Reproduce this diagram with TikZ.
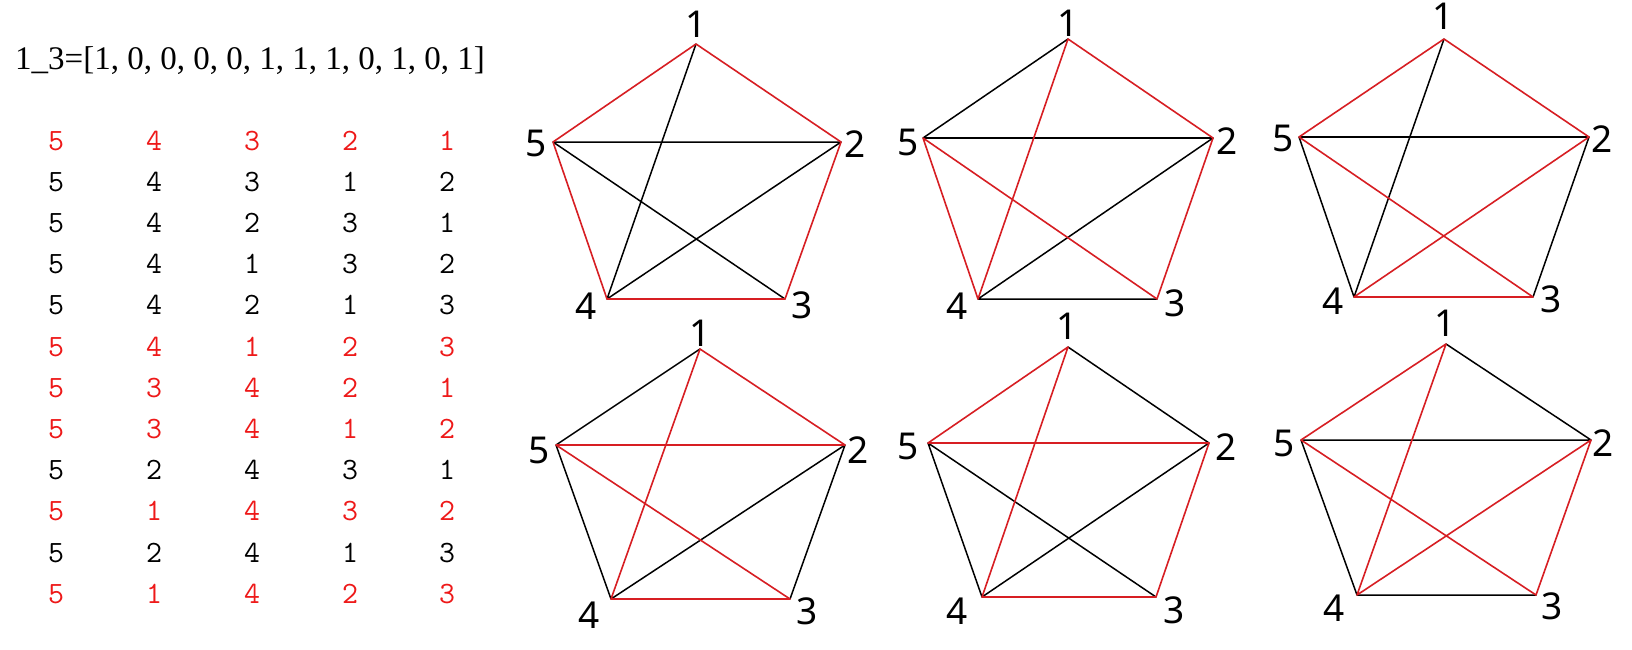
\documentclass[tikz,border=0pt]{standalone}
\usepackage{fontspec}
\setmainfont{Liberation Serif}
\newfontfamily\labfont{Noto Sans}
\definecolor{edgered}{RGB}{215,30,35}
\definecolor{tabred}{RGB}{238,25,25}
\begin{document}
\begin{tikzpicture}[x=1pt,y=-1pt,
  redge/.style={draw=edgered,line width=1.6pt,line cap=round},
  bedge/.style={draw=black,line width=1.5pt,line cap=round},
  vlab/.style={inner sep=0pt,anchor=center,font=\labfont\fontsize{37}{37}\selectfont},
  tdig/.style={inner sep=0pt,anchor=base,font=\ttfamily\fontsize{31}{31}\selectfont},
  hdrtext/.style={inner sep=0pt,anchor=base west,font=\fontsize{33}{33}\selectfont}]
\fill[white] (0,0) rectangle (1632,650);
\useasboundingbox (0,0) rectangle (1632,650);

% header
\node[hdrtext] (hdr) at (15,70) {1\_3=[1, 0, 0, 0, 0, 1, 1, 1, 0, 1, 0, 1]};

% table
\foreach \r/\pa/\pb/\pc/\pd/\pe/\clr in {
  1/5/4/3/2/1/tabred, 2/5/4/3/1/2/black, 3/5/4/2/3/1/black,
  4/5/4/1/3/2/black, 5/5/4/2/1/3/black, 6/5/4/1/2/3/tabred,
  7/5/3/4/2/1/tabred, 8/5/3/4/1/2/tabred, 9/5/2/4/3/1/black,
  10/5/1/4/3/2/tabred, 11/5/2/4/1/3/black, 12/5/1/4/2/3/tabred} {
  \pgfmathsetmacro\yb{150+(\r-1)*41.2}
  \foreach \xx/\vv [count=\k] in {56/\pa,154/\pb,252/\pc,350/\pd,447/\pe}
    \node[tdig,text=\clr] (t\r-\k) at (\xx,\yb) {\vv};
}

% panel A
\coordinate (A1) at (696,44);  \coordinate (A2) at (841,142);
\coordinate (A3) at (785,299); \coordinate (A4) at (607,299);
\coordinate (A5) at (553,142);
\draw[bedge] (A1)--(A4) (A5)--(A2) (A5)--(A3) (A2)--(A4);
\draw[redge] (A1)--(A2) (A2)--(A3) (A3)--(A4) (A4)--(A5) (A5)--(A1);
\node[vlab] (LA1) at (696.5,24) {1};
\node[vlab] (LA2) at (855.5,144) {2};
\node[vlab] (LA3) at (802.5,305.5) {3};
\node[vlab] (LA4) at (586,306.5) {4};
\node[vlab] (LA5) at (536,143.5) {5};

% panel B
\coordinate (B1) at (1068,39);  \coordinate (B2) at (1213,138);
\coordinate (B3) at (1157,299); \coordinate (B4) at (978,299);
\coordinate (B5) at (923,138);
\draw[bedge] (B1)--(B5) (B5)--(B2) (B2)--(B4) (B4)--(B3);
\draw[redge] (B1)--(B2) (B1)--(B4) (B5)--(B4) (B5)--(B3) (B2)--(B3);
\node[vlab] (LB1) at (1068,23.3) {1};
\node[vlab] (LB2) at (1227.5,141.5) {2};
\node[vlab] (LB3) at (1175.5,303) {3};
\node[vlab] (LB4) at (957.5,306.5) {4};
\node[vlab] (LB5) at (908.5,142.5) {5};

% panel C
\coordinate (C1) at (1444,39);  \coordinate (C2) at (1589,137);
\coordinate (C3) at (1533,297); \coordinate (C4) at (1354,297);
\coordinate (C5) at (1299,137);
\draw[bedge] (C1)--(C4) (C5)--(C2) (C5)--(C4) (C2)--(C3);
\draw[redge] (C1)--(C5) (C1)--(C2) (C5)--(C3) (C2)--(C4) (C4)--(C3);
\node[vlab] (LC1) at (1443,16.7) {1};
\node[vlab] (LC2) at (1602,139) {2};
\node[vlab] (LC3) at (1551,299) {3};
\node[vlab] (LC4) at (1333,301) {4};
\node[vlab] (LC5) at (1283,138.3) {5};

% panel D
\coordinate (D1) at (700,349);  \coordinate (D2) at (845,445);
\coordinate (D3) at (790,599);  \coordinate (D4) at (611,599);
\coordinate (D5) at (556,445);
\draw[bedge] (D1)--(D5) (D5)--(D4) (D2)--(D4) (D2)--(D3);
\draw[redge] (D1)--(D2) (D1)--(D4) (D5)--(D2) (D5)--(D3) (D4)--(D3);
\node[vlab] (LD1) at (700,333) {1};
\node[vlab] (LD2) at (858,450) {2};
\node[vlab] (LD3) at (807.5,611.5) {3};
\node[vlab] (LD4) at (589.5,615) {4};
\node[vlab] (LD5) at (539,450) {5};

% panel E
\coordinate (E1) at (1068,347); \coordinate (E2) at (1209,443);
\coordinate (E3) at (1156,597); \coordinate (E4) at (982,597);
\coordinate (E5) at (928,443);
\draw[bedge] (E1)--(E2) (E5)--(E4) (E5)--(E3) (E2)--(E4);
\draw[redge] (E1)--(E5) (E1)--(E4) (E5)--(E2) (E2)--(E3) (E4)--(E3);
\node[vlab] (LE1) at (1067.5,326.7) {1};
\node[vlab] (LE2) at (1226,446.7) {2};
\node[vlab] (LE3) at (1174.5,610) {3};
\node[vlab] (LE4) at (956.7,611.5) {4};
\node[vlab] (LE5) at (908,446.7) {5};

% panel F
\coordinate (F1) at (1446,344); \coordinate (F2) at (1591,440);
\coordinate (F3) at (1536,595); \coordinate (F4) at (1357,595);
\coordinate (F5) at (1301,440);
\draw[bedge] (F1)--(F2) (F5)--(F2) (F5)--(F4) (F4)--(F3);
\draw[redge] (F1)--(F5) (F1)--(F4) (F5)--(F3) (F2)--(F4) (F2)--(F3);
\node[vlab] (LF1) at (1445,323) {1};
\node[vlab] (LF2) at (1603,443) {2};
\node[vlab] (LF3) at (1552.5,606.5) {3};
\node[vlab] (LF4) at (1334,608) {4};
\node[vlab] (LF5) at (1284,443) {5};
\end{tikzpicture}
\end{document}
